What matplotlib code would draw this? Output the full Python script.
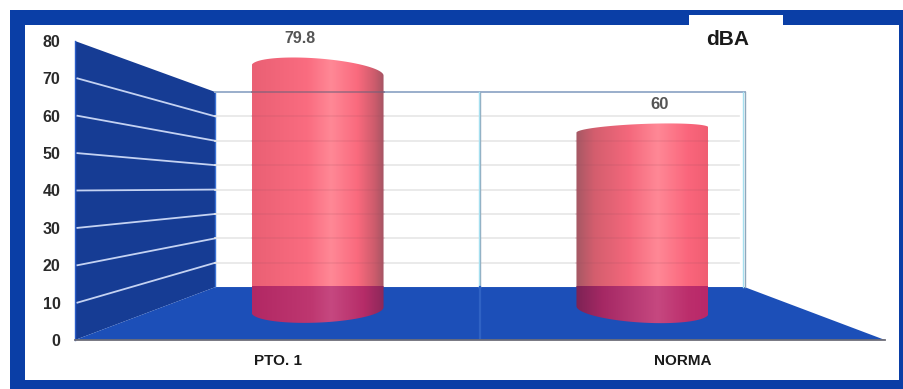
import numpy as np
import matplotlib
matplotlib.use('Agg')
import matplotlib.pyplot as plt
from matplotlib.colors import LinearSegmentedColormap
from matplotlib.patches import Polygon, Rectangle, PathPatch
from matplotlib.path import Path

categories = ['PTO. 1', 'NORMA']
values = [79.8, 60]
y_ticks = [0, 10, 20, 30, 40, 50, 60, 70, 80]
unit_label = 'dBA'

W, H = 904, 389
BLUE = '#0a3ea6'
WALL = '#163c94'
FLOOR = '#1c4fb8'
BOLD = ['Liberation Sans', 'DejaVu Sans']

BACK_X = 529 / 810
BACK_Y = 0.652
BACK_LIFT = 14.17
EYE_LEVEL = 40.7
CYL_DEPTH = 0.57
LABEL_DEPTH = 0.32


def project(x, v, d):
    # x is in category units (0..2), v in dBA, d=0 front and d=1 back
    px = 1 + (x - 1) * (1 - d * (1 - BACK_X))
    py = v * (1 - d * (1 - BACK_Y)) + BACK_LIFT * d
    return px, py


def cylinder_path(cx, top, base, a, top_skew, base_skew):
    # ellipses get flatter near eye level
    b_top = 0.105 * abs(top - EYE_LEVEL)
    b_base = 0.105 * abs(base - EYE_LEVEL)
    t1 = np.linspace(np.pi, 0, 60)
    t2 = np.linspace(0, -np.pi, 60)
    xs = np.r_[cx + a * np.cos(t1), cx + a * np.cos(t2)]
    ys = np.r_[top + b_top * np.sin(t1) + top_skew * np.cos(t1),
               base + b_base * np.sin(t2) + base_skew * np.cos(t2)]
    return Path(np.column_stack([xs, ys]), closed=False), b_top, b_base


def gradient(name, stops):
    stops = [(p, tuple(c / 255 for c in col)) for p, col in stops]
    return LinearSegmentedColormap.from_list(name, stops)


cmap_left = gradient('left', [(0, (234, 96, 116)), (0.42, (250, 108, 128)), (0.6, (255, 136, 150)),
                              (0.8, (250, 106, 126)), (0.93, (205, 92, 108)), (1, (165, 85, 100))])
cmap_right = gradient('right', [(0, (165, 88, 100)), (0.14, (212, 94, 110)), (0.4, (244, 104, 124)),
                                (0.62, (255, 136, 150)), (0.85, (250, 102, 124)), (1, (240, 94, 114))])
dark_left = gradient('dleft', [(0, (178, 40, 100)), (0.45, (190, 55, 112)), (0.6, (198, 72, 128)),
                               (0.85, (182, 44, 104)), (1, (140, 40, 90))])
dark_right = gradient('dright', [(0, (125, 35, 85)), (0.2, (165, 40, 100)), (0.62, (198, 72, 128)),
                                 (0.85, (188, 46, 108)), (1, (185, 40, 105))])

fig = plt.figure(figsize=(W / 100, H / 100), dpi=100, facecolor='white')

# frame behind the chart, in pixel coordinates
bg = fig.add_axes([0, 0, 1, 1])
bg.set_xlim(0, W)
bg.set_ylim(H, 0)
bg.axis('off')
bg.add_patch(Rectangle((10, 10), W - 10, H - 10, fc=BLUE, ec='none'))
bg.add_patch(Rectangle((25, 25), 874, 355, fc='white', ec='none'))
bg.add_patch(Rectangle((689, 15), 94, 12, fc='white', ec='none'))
bg.text(728, 39, unit_label, fontsize=15, fontweight='bold', family=BOLD,
        color='#1a1a1a', ha='center', va='center')

ax = fig.add_axes([75 / W, 1 - 340 / H, 810 / W, 299 / H])
ax.patch.set_alpha(0)
ax.set_xlim(0, 2)
ax.set_ylim(0, 80)
for s in ax.spines.values():
    s.set_visible(False)

# left wall and floor
ytop = y_ticks[-1]
b0 = project(0, 0, 1)
b1 = project(2, 0, 1)
t0 = project(0, ytop, 1)
t1 = project(2, ytop, 1)
ax.add_patch(Polygon([(0, 0), (0, ytop), t0, b0], fc=WALL, ec='none', clip_on=False, zorder=1))
ax.add_patch(Polygon([(0, 0), b0, b1, (2, 0)], fc=FLOOR, ec='none', clip_on=False, zorder=1))
ax.plot([0, 0], [0, ytop], color='#2a5cc8', lw=1.0, clip_on=False, zorder=2)
ax.plot([t0[0], b0[0]], [t0[1], b0[1]], color='#3a72d4', lw=1.0, zorder=2)
ax.plot([0, 2], [0, 0], color='#6d6d78', lw=1.3, clip_on=False, zorder=6)

for v in y_ticks[1:-1]:
    bx, by = project(0, v, 1)
    ax.plot([0.006, bx], [v, by], color='#c4d2f2', lw=1.3, zorder=2)
    ax.plot([bx, project(1.98, v, 1)[0]], [by, by], color='#e6e6e6', lw=1.2, zorder=2)

# back frame, with the faint seam carried on across the floor
ax.plot([t0[0], t1[0]], [t0[1], t1[1]], color='#9aaecb', lw=1.4, zorder=2)
for x in [1, 2]:
    fx, _ = project(x, 0, 1)
    ax.plot([fx, fx], [b0[1], t0[1]], color='#8fa8bc', lw=1.0, zorder=2)
    ax.plot([fx - 0.0025, fx - 0.0025], [b0[1], t0[1]], color='#a6e0f0', lw=1.0, zorder=2)
ax.plot([1, 1], [0, b0[1]], color='#2f62c4', lw=1.6, zorder=2)

# cylinders
half_w = 66 / 405
grads = [(cmap_left, dark_left), (cmap_right, dark_right)]
skews = [(-1.3, 0.7), (0.7, -1.0)]
for i, val in enumerate(values):
    cx, base = project(i + 0.5, 0, CYL_DEPTH)
    _, top = project(i + 0.5, val, CYL_DEPTH)
    path, b_top, b_base = cylinder_path(cx, top, base, half_w, skews[i][0], skews[i][1])
    patch = PathPatch(path, fc='none', ec='none', transform=ax.transData)
    ax.add_patch(patch)
    ramp = np.linspace(0, 1, 256).reshape(1, -1)
    light = ax.imshow(ramp, cmap=grads[i][0], aspect='auto', zorder=3,
                      extent=[cx - half_w, cx + half_w, BACK_LIFT, top + b_top + 2])
    light.set_clip_path(patch)
    dark = ax.imshow(ramp, cmap=grads[i][1], aspect='auto', zorder=3,
                     extent=[cx - half_w, cx + half_w, base - b_base - 2, BACK_LIFT])
    dark.set_clip_path(patch)

    lx, ly = project(i + 0.5, val, LABEL_DEPTH)
    ax.annotate(str(val), (lx, ly), xytext=(0, 14), textcoords='offset points', ha='center', va='center',
                fontsize=11.5 if i == 0 else 12, fontweight='bold', family=BOLD, color='#555555',
                annotation_clip=False, zorder=7)

    # lines of the back wall show faintly through the cylinders
    for v in y_ticks[1:-1]:
        by = project(0, v, 1)[1]
        if by < top:
            ax.plot([cx - half_w, cx + half_w], [by, by], color='#a05060', lw=1.1, alpha=0.16, zorder=4)
    if t0[1] < top:
        ax.plot([cx - half_w, cx + half_w], [t0[1], t0[1]], color='#70607a', lw=1.4, alpha=0.55, zorder=4)

ax.set_xticks([0.5, 1.5])
ax.set_xticklabels(categories, fontsize=11, fontweight='bold', family=BOLD, color='#1a1a1a')
ax.set_yticks(y_ticks)
ax.set_yticklabels([str(v) for v in y_ticks], fontsize=11.5, fontweight='bold', family=BOLD, color='#2a2a2a')
ax.tick_params(axis='x', length=0, pad=10)
ax.tick_params(axis='y', length=0, pad=10.5)

fig.savefig('out.png', dpi=100)
